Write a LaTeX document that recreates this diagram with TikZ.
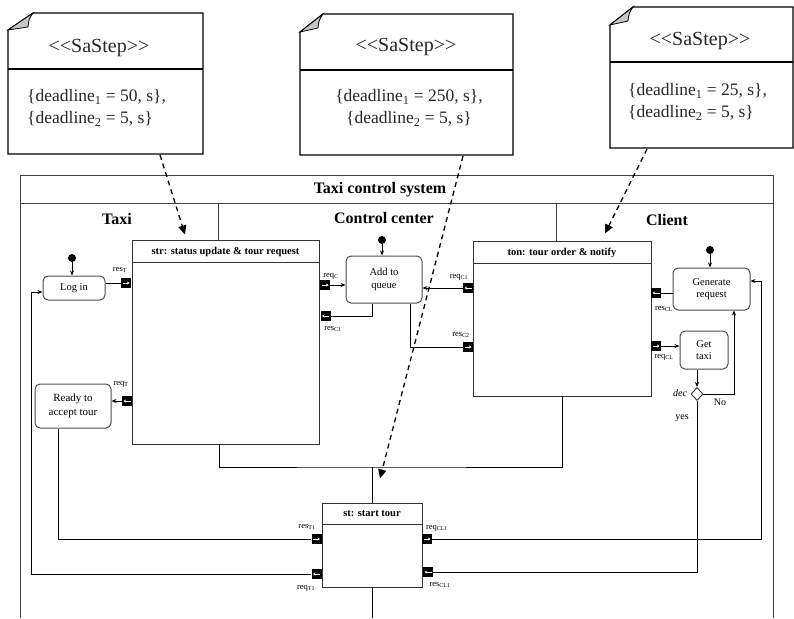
\documentclass[tikz,border=0pt]{standalone}
\usepackage{fontspec}
\setmainfont{Liberation Serif}
\usetikzlibrary{arrows.meta,shapes.geometric,calc}
\newcommand\myportR[1]{\draw[portarrow] ([xshift=-3.5pt]#1.center) -- ([xshift=3.5pt]#1.center);}
\newcommand\myportL[1]{\draw[portarrow] ([xshift=3.5pt]#1.center) -- ([xshift=-3.5pt]#1.center);}
\begin{document}
\begin{tikzpicture}[x=1pt,y=-1pt,
  noteline/.style={draw=black,line width=1.2pt,line join=miter},
  notefold/.style={fill=gray!45,draw=black,line width=0.8pt},
  notetxt/.style={font=\fontsize{17.5}{21.5}\selectfont,inner sep=0pt,text=black!85},
  stereo/.style={notetxt,font=\fontsize{20}{22}\selectfont},
  frameline/.style={draw=black!75,line width=1pt},
  cbox/.style={draw=black!80,line width=1pt,inner sep=0pt},
  hdr/.style={font=\bfseries\fontsize{10.5}{12}\selectfont,inner sep=0pt},
  lane/.style={font=\bfseries\fontsize{16}{18}\selectfont,inner sep=0pt},
  state/.style={draw=black!70,line width=1pt,rounded corners=5pt,inner sep=0pt,align=center,font=\fontsize{10.5}{12.5}\selectfont},
  initdot/.style={circle,fill=black,inner sep=0pt,minimum size=8pt},
  port/.style={fill=black,inner sep=0pt,minimum width=10pt,minimum height=10pt},
  portarrow/.style={draw=white,line width=0.6pt,-{Stealth[length=2.5pt,width=3pt]}},
  plab/.style={font=\fontsize{8.5}{10}\selectfont,inner sep=0pt},
  conn/.style={draw=black,line width=0.9pt},
  arr/.style={conn,-{Stealth[length=5pt,width=4pt]}},
  notelink/.style={draw=black,line width=1.3pt,dash pattern=on 5pt off 4pt,-{Triangle[length=9pt,width=8pt]}},
  slab/.style={font=\fontsize{10}{12}\selectfont,inner sep=0pt}
]
\useasboundingbox (0,0) rectangle (794,618);

% ---------- notes ----------
\draw[noteline] (8,154) -- (8,30) -- (33,13) -- (203,13) -- (203,154) -- cycle;
\draw[notefold] (8,30) -- (33,13) .. controls (29,19) .. (28,27) -- cycle;
\draw[noteline] (8,69) -- (203,69);
\node[stereo] (n1s) at (99,48) {<\kern0pt<SaStep>\kern0pt>};
\node[notetxt,anchor=west,align=left] (n1t) at (27,108) {\{deadline\textsubscript{1} = 50, s\},\\\{deadline\textsubscript{2} = 5, s\}};

\draw[noteline] (300,155) -- (300,32) -- (323,14) -- (513,14) -- (513,155) -- cycle;
\draw[notefold] (300,32) -- (323,14) .. controls (319,20) .. (318,28) -- cycle;
\draw[noteline] (300,70) -- (513,70);
\node[stereo] (n2s) at (406,47) {<\kern0pt<SaStep>\kern0pt>};
\node[notetxt,align=center] (n2t) at (409,108) {\{deadline\textsubscript{1} = 250, s\},\\\{deadline\textsubscript{2} = 5, s\}};

\draw[noteline] (610,148) -- (610,25) -- (633,7) -- (793,7) -- (793,148) -- cycle;
\draw[notefold] (610,25) -- (633,7) .. controls (629,13) .. (628,21) -- cycle;
\draw[noteline] (610,62) -- (793,62);
\node[stereo] (n3s) at (700,41) {<\kern0pt<SaStep>\kern0pt>};
\node[notetxt,anchor=west,align=left] (n3t) at (628,102) {\{deadline\textsubscript{1} = 25, s\},\\\{deadline\textsubscript{2} = 5, s\}};

% ---------- frame ----------
\draw[frameline] (20,618) -- (20,175) -- (773,175) -- (773,618);
\draw[frameline] (20,203) -- (773,203);
\node[lane] (title) at (380,190) {Taxi control system};
\node[lane] (ltaxi) at (117,219) {Taxi};
\node[lane] (lcc) at (384,218) {Control center};
\node[lane] (lcl) at (667,220) {Client};

% ---------- composite boxes ----------
\node[cbox,minimum width=187pt,minimum height=204pt] (str) at (225.5,342) {};
\draw[cbox] ($(str.north west)+(0,23)$) -- ($(str.north east)+(0,23)$);
\node[hdr] (strh) at (225.5,252) {str: status update \& tour request};

\node[cbox,minimum width=178pt,minimum height=155pt] (ton) at (562,318.5) {};
\draw[cbox] ($(ton.north west)+(0,23)$) -- ($(ton.north east)+(0,23)$);
\node[hdr] (tonh) at (562,252.5) {ton: tour order \& notify};

\node[cbox,minimum width=100pt,minimum height=84pt] (st) at (372,545) {};
\draw[cbox] ($(st.north west)+(0,22)$) -- ($(st.north east)+(0,22)$);
\node[hdr] (sth) at (372,514) {st: start tour};

\draw[frameline] (218,203) -- (218,240);
\draw[frameline] (556,203) -- (556,241);

% ---------- states ----------
\node[state,minimum width=62pt,minimum height=24pt] (login) at (74,288) {Log in};
\node[state,minimum width=76pt,minimum height=44pt,font=\fontsize{11}{14}\selectfont] (ready) at (73,406) {Ready to\\accept tour};
\node[state,minimum width=76pt,minimum height=47pt] (queue) at (384,279.5) {Add to\\queue};
\node[state,minimum width=77pt,minimum height=42pt] (gen) at (711.5,289) {Generate\\request};
\node[state,minimum width=48pt,minimum height=38pt] (taxi) at (704,350) {Get\\taxi};
\node[diamond,draw=black!80,line width=0.9pt,fill=white,inner sep=0pt,minimum width=12pt,minimum height=13pt] (dec) at (697,394) {};

\node[initdot] (i1) at (72,258) {};
\node[initdot] (i2) at (382,240) {};
\node[initdot] (i3) at (710,250) {};

% ---------- ports ----------
\node[port] (pResT) at (126,283) {};
\node[port] (pReqT) at (127,401) {};
\node[port] (pReqC) at (325,285) {};
\node[port] (pResC1) at (325.5,316) {};
\node[port] (pReqC1) at (468,288) {};
\node[port] (pResC2) at (468,347) {};
\node[port] (pResCL) at (656,293) {};
\node[port] (pReqCL) at (656,346) {};
\node[port] (pResT1) at (316.5,539) {};
\node[port] (pReqT1) at (316.5,574) {};
\node[port] (pReqCL1) at (427,539) {};
\node[port] (pResCL1) at (428,572) {};
\myportR{pResT} \myportL{pReqT} \myportR{pReqC} \myportL{pResC1}
\myportL{pReqC1} \myportR{pResC2} \myportL{pResCL} \myportR{pReqCL}
\myportR{pResT1} \myportL{pReqT1} \myportR{pReqCL1} \myportL{pResCL1}

\node[plab] (lResT) at (120,270) {res\textsubscript{T}};
\node[plab] (lReqT) at (121,384) {req\textsubscript{T}};
\node[plab] (lReqC) at (331,276) {req\textsubscript{C}};
\node[plab] (lResC1) at (333,329) {res\textsubscript{C1}};
\node[plab] (lReqC1) at (459,277) {req\textsubscript{C1}};
\node[plab] (lResC2) at (461,335) {res\textsubscript{C2}};
\node[plab] (lResCL) at (664,309) {res\textsubscript{CL}};
\node[plab] (lReqCL) at (664,357) {req\textsubscript{CL}};
\node[plab] (lResT1) at (307,527) {res\textsubscript{T1}};
\node[plab] (lReqT1) at (306,588) {req\textsubscript{T1}};
\node[plab] (lReqCL1) at (437,528) {req\textsubscript{CL1}};
\node[plab] (lResCL1) at (440,585) {res\textsubscript{CL1}};

\node[slab,font=\itshape\fontsize{10}{12}\selectfont] (ldec) at (680,393) {dec};
\node[slab] (lno) at (720,402) {No};
\node[slab] (lyes) at (682,418) {yes};

% ---------- connectors ----------
\draw[arr] (i1) -- (i1 |- login.north);
\draw[arr] (i2) -- (i2 |- queue.north);
\draw[arr] (i3) -- (i3 |- gen.north);

\draw[conn] (login.east |- pResT) -- (pResT.west);
\draw[arr] (pReqT.west) -- (ready.east |- pReqT);
\draw[arr] (pReqC.east) -- (queue.west |- pReqC);
\draw[conn] ($(queue.south)+(-12,0)$) |- (pResC1.east);
\draw[arr] (pReqC1.west) -- (queue.east |- pReqC1);
\draw[conn] ($(queue.south)+(26,0)$) |- (pResC2.west);
\draw[conn] (gen.west |- pResCL) -- (pResCL.east);
\draw[arr] (pReqCL.east) -- (taxi.west |- pReqCL);
\draw[arr] (taxi.south -| dec) -- (dec.north);
\draw[arr] (dec.east) -| ($(gen.south)+(22.5,0)$);
\draw[conn] (dec.south) |- (pResCL1.east);
\coordinate (rc) at (761,281);
\draw[arr] (pReqCL1.east) -| (rc) -- (gen.east |- rc);
\coordinate (rb) at (58,541);
\draw[conn] (ready.south -| rb) |- (pResT1.west);
\coordinate (lc) at (31,574);
\draw[arr] (pReqT1.west) -- (lc) |- ($(login.west)+(0,4)$);

% str / ton / st junction
\coordinate (jn) at (372,467);
\draw[conn] (str.south) ++(-6,0) |- (jn) -| (ton.south);
\draw[conn] (jn) -- (st.north);
\draw[conn] (st.south) -- (372,618);

% ---------- dashed note links ----------
\coordinate (n1b) at (160,155);
\coordinate (n2b) at (463,156);
\coordinate (n3b) at (647,149);
\draw[notelink] (n1b) -- ($(str.north)+(-40.5,-5)$);
\draw[notelink] (n2b) -- ($(st.north)+(8,-24)$);
\draw[notelink] (n3b) -- ($(ton.north)+(43,-7)$);
\end{tikzpicture}
\end{document}
